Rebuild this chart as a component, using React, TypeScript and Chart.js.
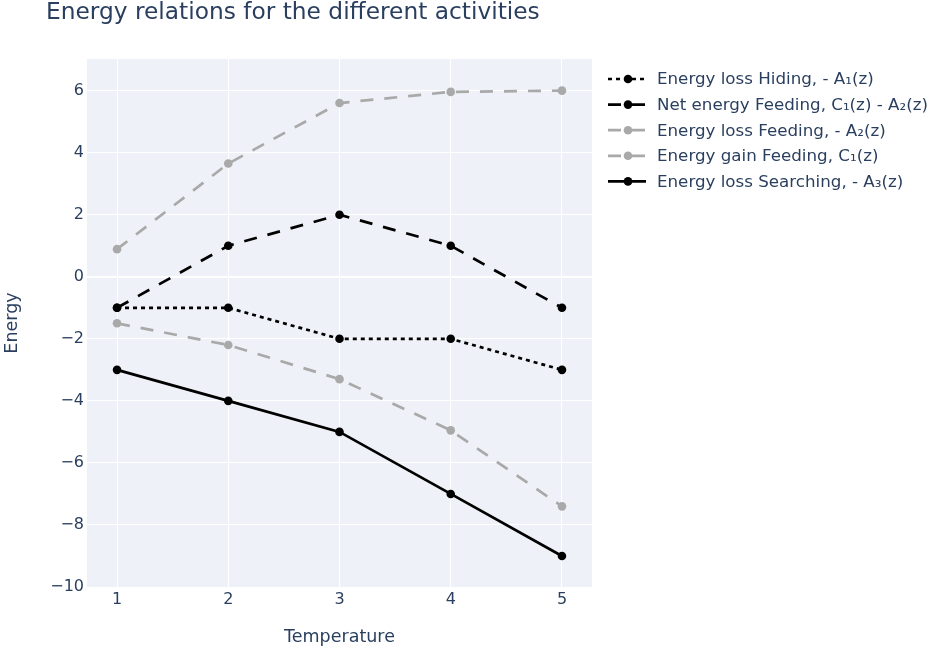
import React, { useEffect, useRef } from 'react';
import { Chart, registerables } from 'chart.js';

Chart.register(...registerables);

// ---- data ----
const temperatures = [1, 2, 3, 4, 5];
const lossHiding = [-1, -1, -2, -2, -3];
const netFeeding = [-1, 1, 2, 1, -1];
const lossFeeding = [-1.5, -2.2, -3.3, -4.95, -7.4];
const gainFeeding = [0.89, 3.65, 5.6, 5.96, 6.0];
const lossSearching = [-3, -4, -5, -7, -9];

const seriesNames = [
  'Energy loss Hiding, - A₁(z)',
  'Net energy Feeding, C₁(z) - A₂(z)',
  'Energy loss Feeding, - A₂(z)',
  'Energy gain Feeding, C₁(z)',
  'Energy loss Searching, - A₃(z)',
];
const seriesValues = [lossHiding, netFeeding, lossFeeding, gainFeeding, lossSearching];

const xTicks = [1, 2, 3, 4, 5];
const yTicks = [-10, -8, -6, -4, -2, 0, 2, 4, 6];

const chartTitle = 'Energy relations for the different activities';
const xTitle = 'Temperature';
const yTitle = 'Energy';

// ---- styles ----
const FONT = '"DejaVu Sans", Verdana, sans-serif';
const TEXT = '#2a3f5f';
const BLACK = '#000000';
const GRAY = '#a9a9a9';
const PLOT_BG = '#eef1f7';
const seriesColors = [BLACK, BLACK, GRAY, GRAY, BLACK];
const seriesDash = [[4, 4], [13, 11], [13, 11], [13, 11], []];

const overlay = {
  id: 'overlay',
  beforeDraw(chart: any) {
    const { ctx, chartArea } = chart;
    ctx.save();
    ctx.fillStyle = PLOT_BG;
    ctx.fillRect(chartArea.left, chartArea.top, chartArea.right - chartArea.left, chartArea.bottom - chartArea.top);
    ctx.restore();
  },
  afterDraw(chart: any) {
    const { ctx } = chart;
    ctx.save();
    // title
    ctx.fillStyle = TEXT;
    ctx.font = `23.3px ${FONT}`;
    ctx.textBaseline = 'alphabetic';
    ctx.textAlign = 'left';
    ctx.fillText(chartTitle, 46, 19);
    // legend
    const x0 = 608;
    const rowY0 = 79;
    const rowH = 25.6;
    chart.data.datasets.forEach((ds: any, i: number) => {
      const y = rowY0 + i * rowH;
      ctx.strokeStyle = ds.borderColor;
      ctx.lineWidth = ds.borderWidth;
      ctx.setLineDash(ds.borderDash || []);
      ctx.beginPath();
      ctx.moveTo(x0, y);
      ctx.lineTo(x0 + 38, y);
      ctx.stroke();
      ctx.setLineDash([]);
      ctx.fillStyle = ds.pointBackgroundColor;
      ctx.beginPath();
      ctx.arc(x0 + 20, y, 4.3, 0, Math.PI * 2);
      ctx.fill();
      ctx.fillStyle = TEXT;
      ctx.font = `16.7px ${FONT}`;
      ctx.textBaseline = 'middle';
      ctx.fillText(ds.label, 657, y + 1);
    });
    ctx.restore();
  },
};

export default function App() {
  const ref = useRef<HTMLCanvasElement | null>(null);

  useEffect(() => {
    if (!ref.current) return;
    const datasets = seriesValues.map((vals, i) => ({
      label: seriesNames[i],
      data: temperatures.map((t, j) => ({ x: t, y: vals[j] })),
      borderColor: seriesColors[i],
      backgroundColor: seriesColors[i],
      pointBackgroundColor: seriesColors[i],
      pointBorderColor: seriesColors[i],
      borderWidth: 2.7,
      borderDash: seriesDash[i],
      pointRadius: 4.3,
      pointBorderWidth: 0,
      tension: 0,
      fill: false,
    }));

    const chart = new Chart(ref.current, {
      type: 'line',
      data: { datasets },
      plugins: [overlay],
      options: {
        animation: false,
        responsive: false,
        devicePixelRatio: 1,
        font: { family: FONT },
        layout: { padding: { top: 59, right: 345, left: 0, bottom: 0 } },
        plugins: {
          legend: { display: false },
          title: { display: false },
          tooltip: { enabled: false },
        },
        scales: {
          x: {
            type: 'linear',
            min: 0.73,
            max: 5.27,
            afterBuildTicks: (scale: any) => {
              scale.ticks = xTicks.map((v) => ({ value: v }));
            },
            afterFit: (scale: any) => {
              scale.height = 64;
            },
            grid: { color: '#ffffff', lineWidth: 1, drawTicks: false },
            border: { display: false },
            ticks: {
              color: TEXT,
              font: { family: FONT, size: 16 },
              padding: 3,
              maxRotation: 0,
              autoSkip: false,
            },
            title: {
              display: true,
              text: xTitle,
              color: TEXT,
              font: { family: FONT, size: 17.5 },
              padding: { top: 0, bottom: 3.5 },
            },
          },
          y: {
            type: 'linear',
            min: -10,
            max: 7.02,
            afterBuildTicks: (scale: any) => {
              scale.ticks = yTicks.map((v) => ({ value: v }));
            },
            afterFit: (scale: any) => {
              scale.width = 87;
            },
            grid: {
              color: '#ffffff',
              lineWidth: (c: any) => (c.tick && c.tick.value === 0 ? 2 : 1),
              drawTicks: false,
            },
            border: { display: false },
            ticks: {
              color: TEXT,
              font: { family: FONT, size: 16 },
              padding: 3,
              autoSkip: false,
              callback: (v: any) => String(v).replace('-', '\u2212'),
            },
            title: {
              display: true,
              text: yTitle,
              color: TEXT,
              font: { family: FONT, size: 17.5 },
              padding: { top: 1.5, bottom: 0 },
            },
          },
        },
      } as any,
    });
    return () => chart.destroy();
  }, []);

  return (
    <div style={{ position: 'absolute', left: 0, top: 0, width: 937, height: 651 }}>
      <canvas ref={ref} width={937} height={651} style={{ width: 937, height: 651 }} />
    </div>
  );
}
